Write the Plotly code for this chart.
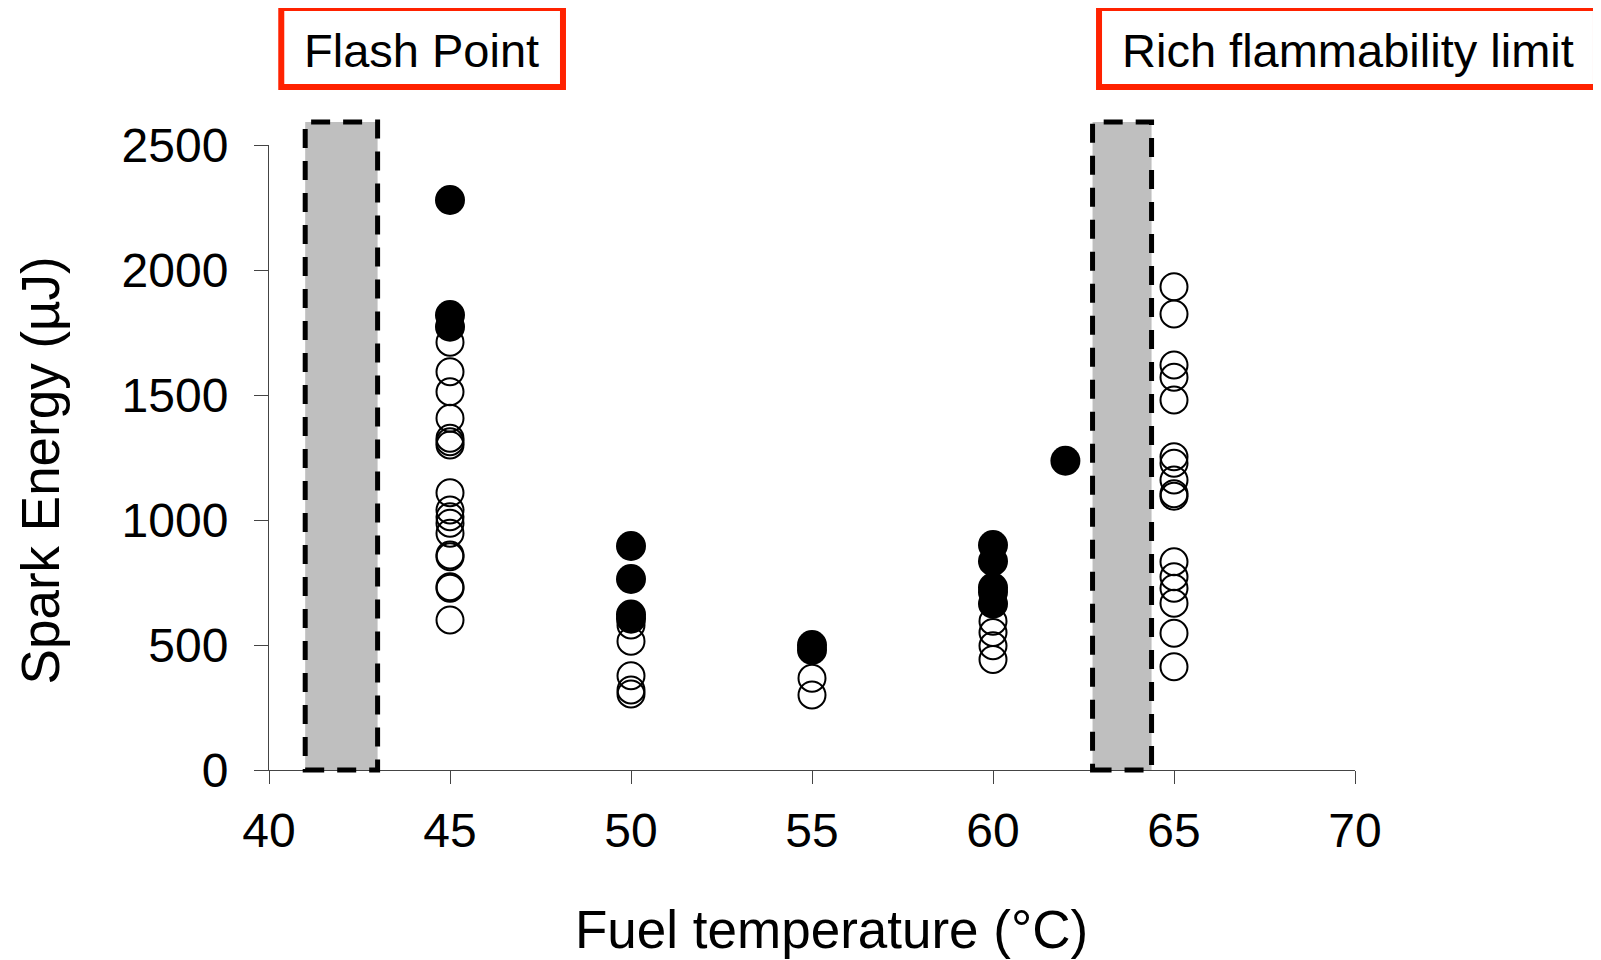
import plotly.graph_objects as go

# Ignition (filled markers)
ign_temp = [45, 45, 45, 50, 50, 50, 50, 55, 55, 60, 60, 60, 60, 60, 62]
ign_energy = [2280, 1820, 1773, 896, 764, 622, 605, 500, 480, 900, 835, 730, 712, 665, 1237]

# No ignition (open markers)
noign_temp = ([45] * 17 + [50] * 5 + [55] * 2 + [60] * 4 + [65] * 16)
noign_energy = [1711, 1593, 1513, 1407, 1327, 1313, 1300, 1109, 1040, 1013, 987, 947, 860, 853, 733, 727, 600,
                580, 515, 377, 320, 304,
                367, 300,
                595, 550, 497, 442,
                1933, 1824, 1620, 1571, 1480, 1253, 1227, 1160, 1105, 1095, 833, 773, 727, 667, 547, 413]

x_ticks = [40, 45, 50, 55, 60, 65, 70]
y_ticks = [0, 500, 1000, 1500, 2000, 2500]

# Shaded regions (flash point, rich flammability limit)
band_flash = (41.0, 43.0)
band_rich = (62.75, 64.38)

FONT = "Liberation Sans, Arial, sans-serif"

fig = go.Figure()
fig.add_trace(go.Scatter(
    x=noign_temp, y=noign_energy, mode="markers",
    marker=dict(symbol="circle-open", size=27, color="black", line=dict(width=2, color="black")),
    showlegend=False, cliponaxis=False))
fig.add_trace(go.Scatter(
    x=ign_temp, y=ign_energy, mode="markers",
    marker=dict(symbol="circle", size=30, color="black", line=dict(width=0)),
    showlegend=False, cliponaxis=False))

for x0, x1 in (band_flash, band_rich):
    fig.add_shape(type="rect", xref="x", yref="paper", x0=x0, x1=x1, y0=0, y1=1.037,
                  fillcolor="#bfbfbf", line=dict(color="black", width=5, dash="19px,13px"),
                  layer="above")

# Red label boxes
fig.add_shape(type="rect", xref="paper", yref="paper", x0=0.0113, x1=0.2707, y0=1.0928, y1=1.2192,
              line=dict(color="#ff2200", width=6), fillcolor="rgba(0,0,0,0)")
fig.add_shape(type="rect", xref="paper", yref="paper", x0=0.7643, x1=1.2219, y0=1.0928, y1=1.2192,
              line=dict(color="#ff2200", width=6), fillcolor="rgba(0,0,0,0)")

fig.add_annotation(text="Flash Point", xref="paper", yref="paper", x=0.1404, y=1.151,
                   showarrow=False, font=dict(family=FONT, size=47, color="black"),
                   xanchor="center", yanchor="middle")
fig.add_annotation(text="Rich flammability limit", xref="paper", yref="paper", x=0.9936, y=1.151,
                   showarrow=False, font=dict(family=FONT, size=47, color="black"),
                   xanchor="center", yanchor="middle")

# Axis titles
fig.add_annotation(text="Fuel temperature (°C)", xref="paper", yref="paper", x=0.5184, y=-0.2544,
                   showarrow=False, font=dict(family=FONT, size=53, color="black"),
                   xanchor="center", yanchor="middle")
fig.add_annotation(text="Spark Energy (µJ)", xref="paper", yref="paper", x=-0.2105, y=0.48,
                   showarrow=False, textangle=-90, font=dict(family=FONT, size=53, color="black"),
                   xanchor="center", yanchor="middle")

fig.update_xaxes(range=[40, 70], tickvals=x_ticks, ticktext=[str(v) for v in x_ticks],
                 ticks="outside", ticklen=13, tickwidth=1, tickcolor="#444",
                 showline=True, linecolor="#444", linewidth=1, showgrid=False, zeroline=False,
                 tickfont=dict(family=FONT, size=48, color="black"), ticklabelstandoff=5)
fig.update_yaxes(range=[0, 2500], tickvals=y_ticks, ticktext=[str(v) for v in y_ticks],
                 ticks="outside", ticklen=14, tickwidth=1, tickcolor="#444",
                 showline=True, linecolor="#444", linewidth=1, showgrid=False, zeroline=False,
                 tickfont=dict(family=FONT, size=48, color="black"), ticklabelstandoff=16)

fig.update_layout(width=1593, height=952, margin=dict(l=261, r=246, t=137, b=190),
                  plot_bgcolor="white", paper_bgcolor="white")

fig.write_html("out.html")
